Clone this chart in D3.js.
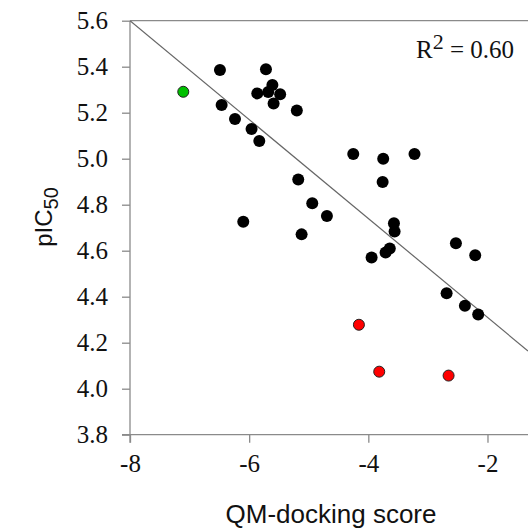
<!DOCTYPE html>
<html>
<head>
<meta charset="utf-8">
<script src="https://cdn.jsdelivr.net/npm/d3@7/dist/d3.min.js"></script>
<style>
  html, body { margin: 0; padding: 0; background: #fff; }
  svg { display: block; }
  .serif { font-family: "Liberation Serif", "Times New Roman", serif !important; }
  .sans { font-family: "Liberation Sans", Arial, sans-serif !important; }
</style>
</head>
<body>
<svg id="chart" width="528" height="528"></svg>
<script>
// ---- data ----
const blackX = [-6.49, -5.718, -6.462, -6.238, -5.96, -5.83, -5.864, -5.61, -5.68, -5.48, -5.59, -5.2,
                -4.253, -3.75, -3.225, -6.099, -5.176, -4.941, -4.695, -5.12, -3.76, -3.57, -3.559,
                -3.64, -3.71, -3.945, -2.53, -2.206, -2.686, -2.379, -2.156];
const blackY = [5.386, 5.389, 5.233, 5.173, 5.129, 5.077, 5.284, 5.32, 5.29, 5.28, 5.24, 5.21,
                5.02, 5.0, 5.02, 4.726, 4.91, 4.806, 4.751, 4.671, 4.899, 4.719, 4.683,
                4.61, 4.592, 4.57, 4.632, 4.58, 4.415, 4.361, 4.323];
const greenX = [-7.106];
const greenY = [5.291];
const redX = [-4.158, -3.817, -2.653];
const redY = [4.278, 4.074, 4.057];
const fitSlope = -0.215;
const fitIntercept = 3.88;
const xTicks = [-8, -6, -4, -2];
const yTicks = [3.8, 4.0, 4.2, 4.4, 4.6, 4.8, 5.0, 5.2, 5.4, 5.6];
const xTitle = "QM-docking score";
const rSquared = "0.60";

// ---- layout ----
const svg = d3.select("#chart");
const pL = 130, pR = 528, pT = 20.7, pB = 434.7;
const x = d3.scaleLinear().domain([-8, -1.32]).range([pL, pR]);
const y = d3.scaleLinear().domain([3.8, 5.6]).range([pB, pT]);
const axisColor = "#8a8a8a";

svg.append("defs").append("clipPath").attr("id", "plotclip")
  .append("rect").attr("x", pL).attr("y", pT).attr("width", pR - pL).attr("height", pB - pT);

// top frame line
svg.append("line").attr("x1", pL).attr("x2", pR).attr("y1", pT).attr("y2", pT)
  .attr("stroke", axisColor).attr("stroke-width", 1.3);

// y axis
const yAxis = d3.axisLeft(y).tickValues(yTicks).tickFormat(d3.format(".1f")).tickSize(8).tickPadding(14);
const gy = svg.append("g").attr("transform", `translate(${pL},0)`).call(yAxis)
  .attr("font-family", null).attr("font-size", null);
gy.select(".domain").remove();
gy.append("line").attr("x1", 0).attr("x2", 0).attr("y1", pT).attr("y2", pB + 8)
  .attr("stroke", axisColor).attr("stroke-width", 1.3);
gy.selectAll(".tick line").attr("stroke", axisColor).attr("stroke-width", 1.3);
gy.selectAll(".tick text").attr("class", "serif").style("font-size", "25px").attr("fill", "#111");

// x axis
const xAxis = d3.axisBottom(x).tickValues(xTicks).tickFormat(d => d).tickSize(8).tickPadding(12);
const gx = svg.append("g").attr("transform", `translate(0,${pB})`).call(xAxis)
  .attr("font-family", null).attr("font-size", null);
gx.select(".domain").remove();
gx.append("line").attr("x1", pL - 8).attr("x2", pR).attr("y1", 0).attr("y2", 0)
  .attr("stroke", axisColor).attr("stroke-width", 1.3);
gx.selectAll(".tick line").attr("stroke", axisColor).attr("stroke-width", 1.3);
gx.selectAll(".tick text").attr("class", "serif").style("font-size", "25px").attr("fill", "#111");

// regression line
const fx = x.domain();
svg.append("line").attr("clip-path", "url(#plotclip)")
  .attr("x1", x(fx[0])).attr("y1", y(fitIntercept + fitSlope * fx[0]))
  .attr("x2", x(fx[1])).attr("y2", y(fitIntercept + fitSlope * fx[1]))
  .attr("stroke", "#666").attr("stroke-width", 1.2);

// points
const r = 6;
svg.append("g").selectAll("circle").data(d3.range(blackX.length)).join("circle")
  .attr("cx", i => x(blackX[i])).attr("cy", i => y(blackY[i])).attr("r", r)
  .attr("fill", "#000");
svg.append("g").selectAll("circle").data(d3.range(greenX.length)).join("circle")
  .attr("cx", i => x(greenX[i])).attr("cy", i => y(greenY[i])).attr("r", r - 0.5)
  .attr("fill", "#00c000").attr("stroke", "#222").attr("stroke-width", 1);
svg.append("g").selectAll("circle").data(d3.range(redX.length)).join("circle")
  .attr("cx", i => x(redX[i])).attr("cy", i => y(redY[i])).attr("r", r - 0.5)
  .attr("fill", "#ff0000").attr("stroke", "#222").attr("stroke-width", 1);

// R^2 annotation
const rt = svg.append("text").attr("class", "serif").attr("x", 416).attr("y", 58)
  .style("font-size", "25px").attr("fill", "#111");
rt.append("tspan").text("R");
rt.append("tspan").attr("dy", -9).style("font-size", "22px").text("2");
rt.append("tspan").attr("dy", 9).text(" = " + rSquared);

// axis titles
svg.append("text").attr("class", "sans").attr("x", (223 + 439) / 2).attr("y", 523)
  .attr("text-anchor", "middle").style("font-size", "26px").attr("fill", "#111").text(xTitle);

const yt = svg.append("text").attr("class", "sans").attr("transform", "translate(52,217) rotate(-90)")
  .attr("text-anchor", "middle").style("font-size", "24px").attr("fill", "#111");
yt.append("tspan").text("pIC");
yt.append("tspan").attr("dy", 6).style("font-size", "20px").text("50");
</script>
</body>
</html>
